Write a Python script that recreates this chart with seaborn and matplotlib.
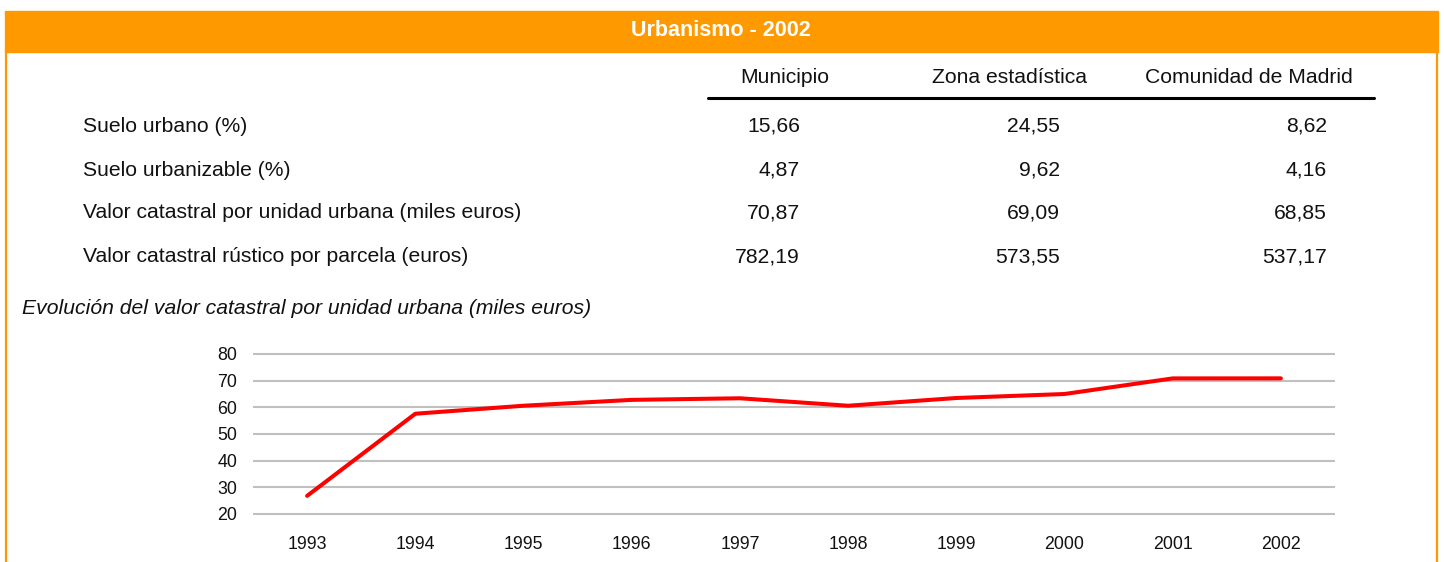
import matplotlib
matplotlib.use("Agg")
import matplotlib.pyplot as plt
import seaborn as sns
import pandas as pd
from matplotlib.patches import Rectangle
from matplotlib.lines import Line2D

title = "Urbanismo - 2002"
col_headers = ["Municipio", "Zona estadística", "Comunidad de Madrid"]
row_labels = ["Suelo urbano (%)", "Suelo urbanizable (%)",
              "Valor catastral por unidad urbana (miles euros)",
              "Valor catastral rústico por parcela (euros)"]
municipio = ["15,66", "4,87", "70,87", "782,19"]
zona = ["24,55", "9,62", "69,09", "573,55"]
comunidad = ["8,62", "4,16", "68,85", "537,17"]
subtitle = "Evolución del valor catastral por unidad urbana (miles euros)"

years = ["1993", "1994", "1995", "1996", "1997", "1998", "1999", "2000", "2001", "2002"]
valor = [26.8, 57.6, 60.6, 62.8, 63.4, 60.6, 63.5, 65.0, 70.85, 70.87]
yticks = [20, 30, 40, 50, 60, 70, 80]

sns.set_theme(style="white")
plt.rcParams['font.family'] = ['Liberation Sans', 'DejaVu Sans']

W, H = 1444, 562
fig = plt.figure(figsize=(W / 100, H / 100), dpi=100)

def fx(x):
    return x / W

def fy(y):
    return 1 - y / H

orange = "#FF9900"
txt = "#111111"
fs = 15.2

# header band and side borders
fig.patches.append(Rectangle((fx(5), fy(52)), fx(1438 - 5), (52 - 11) / H,
                             transform=fig.transFigure, color=orange, zorder=0))
fig.lines.append(Line2D([fx(6), fx(6)], [fy(52), 0], transform=fig.transFigure,
                        color=orange, lw=1.6))
fig.lines.append(Line2D([fx(1437), fx(1437)], [fy(52), 0], transform=fig.transFigure,
                        color=orange, lw=1.6))
fig.text(fx(721), fy(31), title, ha="center", va="center", color="white",
         fontsize=15.5, fontweight="bold",
         family=['Liberation Sans Narrow', 'Liberation Sans', 'DejaVu Sans'])

# table
header_x = [785, 1010, 1249]
for hx, h in zip(header_x, col_headers):
    fig.text(fx(hx), fy(77), h, ha="center", va="center", fontsize=fs, color=txt)
fig.lines.append(Line2D([fx(708), fx(1374)], [fy(98), fy(98)], transform=fig.transFigure,
                        color="black", lw=2.2))
row_y = [126, 170, 213, 257]
val_right = [800, 1060, 1327]
for i, (ry, lab) in enumerate(zip(row_y, row_labels)):
    fig.text(fx(83), fy(ry), lab, ha="left", va="center", fontsize=fs, color=txt)
    for vx, col in zip(val_right, [municipio, zona, comunidad]):
        fig.text(fx(vx), fy(ry), col[i], ha="right", va="center", fontsize=fs, color=txt)

fig.text(fx(22), fy(308), subtitle, ha="left", va="center", fontsize=fs,
         style="italic", color=txt)

# line chart
ymin, ymax = 18, 82
ppu = (514 - 354) / 60.0
top_px = 354 - (ymax - 80) * ppu
bot_px = 514 + (20 - ymin) * ppu
ax = fig.add_axes([fx(253), fy(bot_px), fx(1335 - 253), (bot_px - top_px) / H])
df = pd.DataFrame({"year": years, "valor": valor})
sns.lineplot(data=df, x="year", y="valor", ax=ax, color="#FF0000", linewidth=2.9)
ax.set_xlim(-0.5, len(years) - 0.5)
ax.set_ylim(ymin, ymax)
ax.set_yticks(yticks)
ax.set_yticklabels([str(t) for t in yticks])
ax.set_xlabel("")
ax.set_ylabel("")
for s in ax.spines.values():
    s.set_visible(False)
ax.yaxis.grid(True, color="#C0C0C0", linewidth=1.5)
ax.xaxis.grid(False)
ax.set_axisbelow(True)
ax.tick_params(axis="y", length=0, pad=11.5, labelsize=12.8, labelcolor=txt)
ax.tick_params(axis="x", length=0, pad=12, labelsize=12.8, labelcolor=txt)
ax.patch.set_alpha(0)

fig.savefig("out.png", dpi=100)
